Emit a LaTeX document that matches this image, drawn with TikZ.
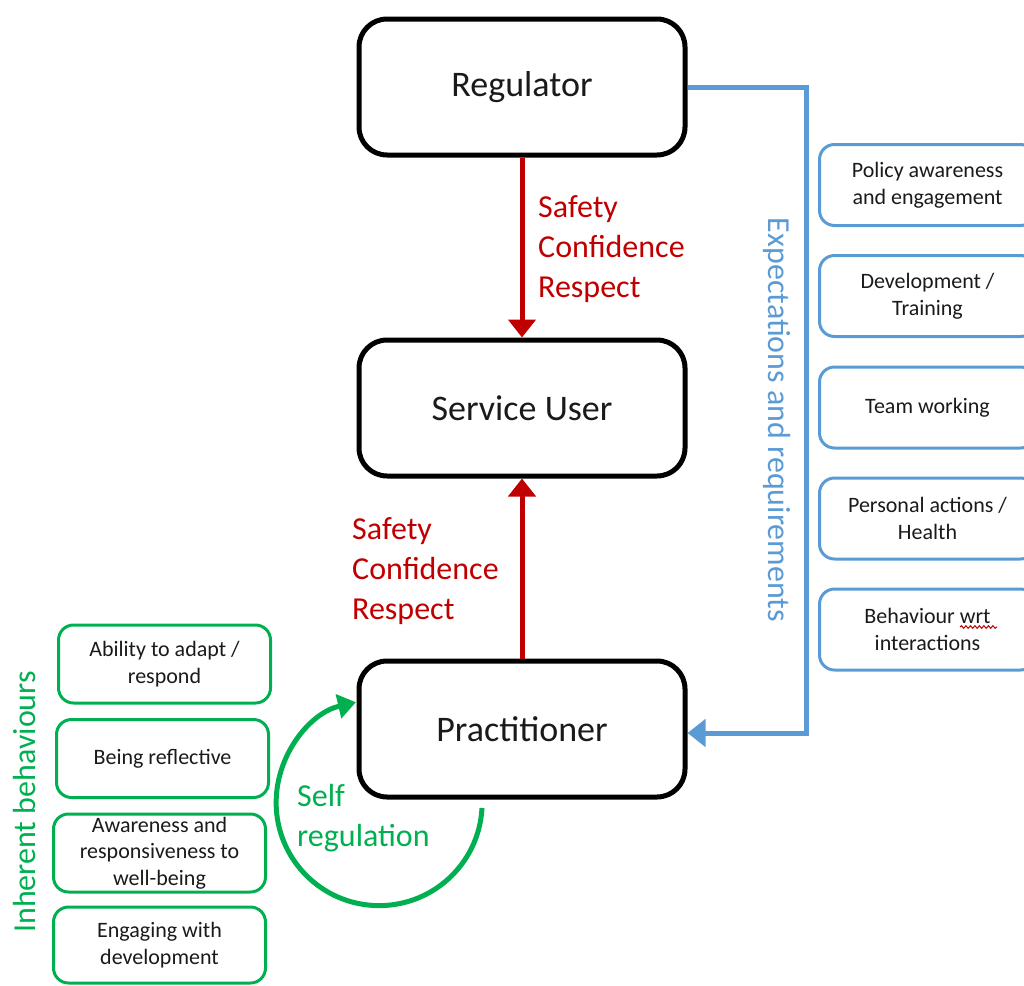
\documentclass[tikz,border=0pt]{standalone}
\usepackage{fontspec}
\setmainfont{Carlito}
\usetikzlibrary{arrows.meta,decorations.pathmorphing}
\definecolor{regred}{HTML}{C00000}
\definecolor{expblue}{HTML}{5B9BD5}
\definecolor{selfgreen}{HTML}{00B050}
\definecolor{inktext}{HTML}{1A1A1A}

\begin{document}
\begin{tikzpicture}[x=1pt,y=-1pt,
  mainbox/.style={draw=black, line width=5pt, rounded corners=28pt,
    minimum width=326pt, minimum height=136pt, inner sep=0pt,
    text=inktext, font=\fontsize{36}{43}\selectfont},
  needbox/.style={draw=expblue, line width=3pt, rounded corners=15pt,
    minimum width=216pt, minimum height=81pt, inner sep=0pt, align=center,
    text=inktext, font=\fontsize{22}{26.5}\selectfont},
  traitbox/.style={draw=selfgreen, line width=3pt, rounded corners=15pt,
    minimum width=212pt, minimum height=78pt, inner sep=0pt, align=center,
    text=inktext, font=\fontsize{22}{26.5}\selectfont},
  redlabel/.style={text=regred, align=left, anchor=west, inner sep=0pt,
    font=\fontsize{32}{40}\selectfont},
  sidelabel/.style={inner sep=0pt, font=\fontsize{32}{40}\selectfont},
  redarrow/.style={draw=regred, line width=5pt,
    -{Triangle[width=27pt,length=18pt]}},
  bluearrow/.style={draw=expblue, line width=5pt,
    -{Triangle[width=27pt,length=18pt]}},
  selfarrow/.style={draw=selfgreen, line width=5pt,
    -{Triangle[width=24pt,length=18pt]}},
]
\clip (0,0) rectangle (1024,985);

% central chain
\node[mainbox] (reg)  at (522,87)  {Regulator};
\node[mainbox] (su)   at (522,408) {Service User};
\node[mainbox] (prac) at (522,729) {Practitioner};

\draw[redarrow] (reg.south) -- (su.north);
\draw[redarrow] (prac.north) -- (su.south);

\node[redlabel] (down) at (538,249) {Safety\\Confidence\\Respect};
\node[redlabel] (up)   at (352,571) {Safety\\Confidence\\Respect};

% expectations loop on the right
\coordinate (bend) at (806,733);
\draw[bluearrow] (reg.east) -| (bend) -- (prac.east |- bend);
\node[sidelabel, rotate=-90, text=expblue] (exp) at (777,420)
  {Expectations and requirements};

\node[needbox] (n1) at (927.5,185)   {Policy awareness\\and engagement};
\node[needbox] (n2) at (927.5,296)   {Development /\\Training};
\node[needbox] (n3) at (927.5,407.5) {Team working};
\node[needbox] (n4) at (927.5,518.5) {Personal actions /\\Health};
\node[needbox] (n5) at (927.5,629.5) {Behaviour wrt\\interactions};
\draw[regred, line width=1pt, decorate,
  decoration={snake, amplitude=1.3pt, segment length=4.5pt}]
  (960,627) -- (997,627);

% self regulation loop on the left
\coordinate (selfstart) at (482,808);
\draw[selfarrow] (selfstart) arc[start angle=-3, end angle=-257, radius=103pt];
\node[sidelabel, text=selfgreen, align=left, anchor=west] (selftxt) at (297,818)
  {Self\\regulation};

\node[traitbox] (t1) at (164.5,664) {Ability to adapt /\\respond};
\node[traitbox] (t2) at (162.5,758.5) {Being reflective};
\node[traitbox, minimum height=78pt] (t3) at (159.5,853) {Awareness and\\responsiveness to\\well-being};
\node[traitbox, minimum height=76pt] (t4) at (159.5,945) {Engaging with\\development};
\node[sidelabel, rotate=90, text=selfgreen] (inh) at (25,802) {Inherent behaviours};
\end{tikzpicture}
\end{document}
